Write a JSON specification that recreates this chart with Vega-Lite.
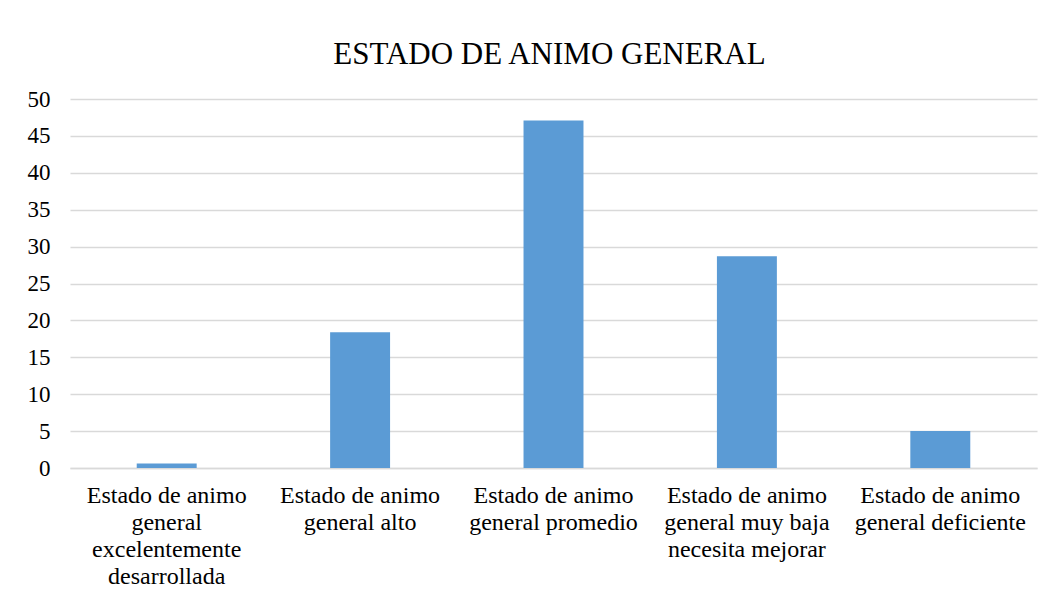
{
  "$schema": "https://vega.github.io/schema/vega-lite/v6.json",
  "autosize": {"type": "none"},
  "padding": {"left": 70, "top": 99, "right": 18, "bottom": 134},
  "width": 967,
  "height": 369,
  "background": "white",
  "title": {
    "text": "ESTADO DE ANIMO GENERAL",
    "font": "Liberation Serif",
    "fontSize": 31,
    "fontWeight": "normal",
    "color": "#000000",
    "anchor": "middle",
    "baseline": "alphabetic",
    "offset": -7,
    "dx": -4
  },
  "data": {
    "values": [
      {"categoria": "Estado de animo\ngeneral\nexcelentemente\ndesarrollada", "valor": 0.6},
      {"categoria": "Estado de animo\ngeneral alto", "valor": 18.4},
      {"categoria": "Estado de animo\ngeneral promedio", "valor": 47.1},
      {"categoria": "Estado de animo\ngeneral muy baja\nnecesita mejorar", "valor": 28.7},
      {"categoria": "Estado de animo\ngeneral deficiente", "valor": 5.0}
    ]
  },
  "mark": {"type": "bar", "color": "#5b9bd5"},
  "encoding": {
    "x": {
      "field": "categoria",
      "type": "nominal",
      "sort": null,
      "scale": {"paddingInner": 0.69, "paddingOuter": 0.345},
      "axis": {
        "title": null,
        "labelAngle": 0,
        "labelExpr": "split(datum.label, '\\n')",
        "labelFont": "Liberation Serif",
        "labelFontSize": 24,
        "labelColor": "#000000",
        "labelLineHeight": 27,
        "labelPadding": 15,
        "labelLimit": 0,
        "ticks": false,
        "domain": true,
        "domainColor": "#d9d9d9",
        "domainWidth": 1.3
      }
    },
    "y": {
      "field": "valor",
      "type": "quantitative",
      "scale": {"domain": [0, 50], "nice": false},
      "axis": {
        "title": null,
        "values": [0, 5, 10, 15, 20, 25, 30, 35, 40, 45, 50],
        "labelFont": "Liberation Serif",
        "labelFontSize": 23,
        "labelColor": "#000000",
        "labelPadding": 20,
        "ticks": false,
        "domain": false,
        "grid": true,
        "gridColor": "#d9d9d9",
        "gridWidth": 1.3
      }
    }
  },
  "config": {
    "font": "Liberation Serif",
    "axis": {"labelFont": "Liberation Serif"},
    "view": {"stroke": null}
  }
}
